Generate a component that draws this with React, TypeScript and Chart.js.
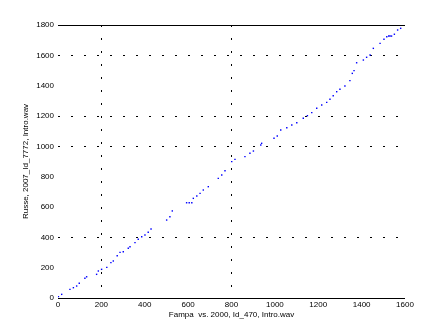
import React, { useEffect, useRef } from "react";
import { Chart, registerables } from "chart.js";

Chart.register(...registerables);

const xValues = [2, 17, 55, 71, 86, 98, 124, 132, 178, 186, 201, 225, 244, 255, 273, 286, 301, 324, 332, 355, 370, 386, 401, 416, 429, 501, 516, 527, 593, 605, 617, 624, 640, 655, 670, 693, 739, 755, 770, 801, 816, 862, 885, 901, 935, 939, 996, 1011, 1027, 1055, 1078, 1101, 1131, 1150, 1170, 1193, 1216, 1239, 1254, 1269, 1285, 1300, 1323, 1346, 1357, 1365, 1377, 1408, 1423, 1439, 1454, 1485, 1503, 1516, 1525, 1531, 1538, 1551, 1566, 1580];
const yValues = [9, 24, 57, 68, 79, 97, 130, 140, 156, 178, 189, 202, 233, 244, 279, 301, 305, 328, 338, 365, 387, 404, 415, 433, 455, 514, 536, 574, 628, 628, 628, 657, 672, 690, 712, 734, 789, 811, 839, 899, 914, 932, 954, 969, 1009, 1020, 1053, 1068, 1108, 1123, 1141, 1156, 1185, 1202, 1222, 1251, 1272, 1290, 1310, 1334, 1360, 1376, 1398, 1433, 1481, 1499, 1551, 1569, 1587, 1602, 1646, 1679, 1706, 1723, 1727, 1727, 1727, 1739, 1767, 1778];

const xGridValues = [200, 800];
const yGridValues = [400, 1000, 1200, 1600];
const xTitle = "Fampa  vs. 2000, Id_470, Intro.wav";
const yTitle = "Russe, 2007_Id_7772, Intro.wav";

const FONT = "'Liberation Sans', Arial, Helvetica, sans-serif";

export default function App() {
  const ref = useRef<HTMLCanvasElement | null>(null);
  useEffect(() => {
    if (!ref.current) return;
    const framePlugin = {
      id: "frame",
      afterDraw(chart: any) {
        const { ctx, chartArea } = chart;
        ctx.save();
        ctx.strokeStyle = "#000";
        ctx.lineWidth = 1;
        ctx.beginPath();
        ctx.moveTo(chartArea.left, Math.round(chartArea.top) + 0.5);
        ctx.lineTo(chartArea.right, Math.round(chartArea.top) + 0.5);
        ctx.moveTo(chartArea.left, Math.round(chartArea.bottom) + 0.5);
        ctx.lineTo(chartArea.right, Math.round(chartArea.bottom) + 0.5);
        ctx.stroke();
        ctx.restore();
      },
    };
    const chart = new Chart(ref.current, {
      type: "scatter",
      data: {
        datasets: [
          {
            data: xValues.map((x, i) => ({ x, y: yValues[i] })),
            backgroundColor: "#0000ff",
            borderColor: "#0000ff",
            pointStyle: "rect",
            pointRadius: 1,
            borderWidth: 0,
            showLine: false,
          },
        ],
      },
      options: {
        animation: false,
        responsive: false,
        layout: { padding: { top: 25, right: 42, left: 0, bottom: 0 } },
        plugins: { legend: { display: false }, tooltip: { enabled: false } },
        scales: {
          x: {
            type: "linear",
            min: 0,
            max: 1600,
            afterFit: (s: any) => {
              s.height = 37;
            },
            ticks: { stepSize: 200, color: "#000", padding: 2, maxRotation: 0, font: { family: FONT, size: 8 }, callback: (v: any) => String(v) },
            grid: {
              drawTicks: false,
              lineWidth: 1,
              color: (c: any) => (c.tick && xGridValues.includes(c.tick.value) ? "#000" : "rgba(0,0,0,0)"),
              borderDash: [2, 11],
            } as any,
            border: { display: false, dash: [2, 11] },
            title: { display: true, text: xTitle, color: "#000", font: { family: FONT, size: 8 }, padding: { top: 0, bottom: 15 } },
          },
          y: {
            type: "linear",
            min: 0,
            max: 1800,
            afterFit: (s: any) => {
              s.width = 58;
            },
            ticks: { stepSize: 200, color: "#000", padding: 4, font: { family: FONT, size: 8 }, callback: (v: any) => String(v) },
            grid: {
              drawTicks: false,
              lineWidth: 1,
              color: (c: any) => (c.tick && yGridValues.includes(c.tick.value) ? "#000" : "rgba(0,0,0,0)"),
              borderDash: [2, 11],
            } as any,
            border: { display: false, dash: [2, 11] },
            title: { display: true, text: yTitle, color: "#000", font: { family: FONT, size: 8 }, padding: { top: 21, bottom: 0 } },
          },
        },
      },
      plugins: [framePlugin],
    } as any);
    return () => chart.destroy();
  }, []);
  return (
    <div style={{ position: "fixed", left: 0, top: 0, width: 447, height: 335, background: "#fff" }}>
      <canvas ref={ref} width={447} height={335} style={{ width: 447, height: 335, display: "block" }} />
    </div>
  );
}
